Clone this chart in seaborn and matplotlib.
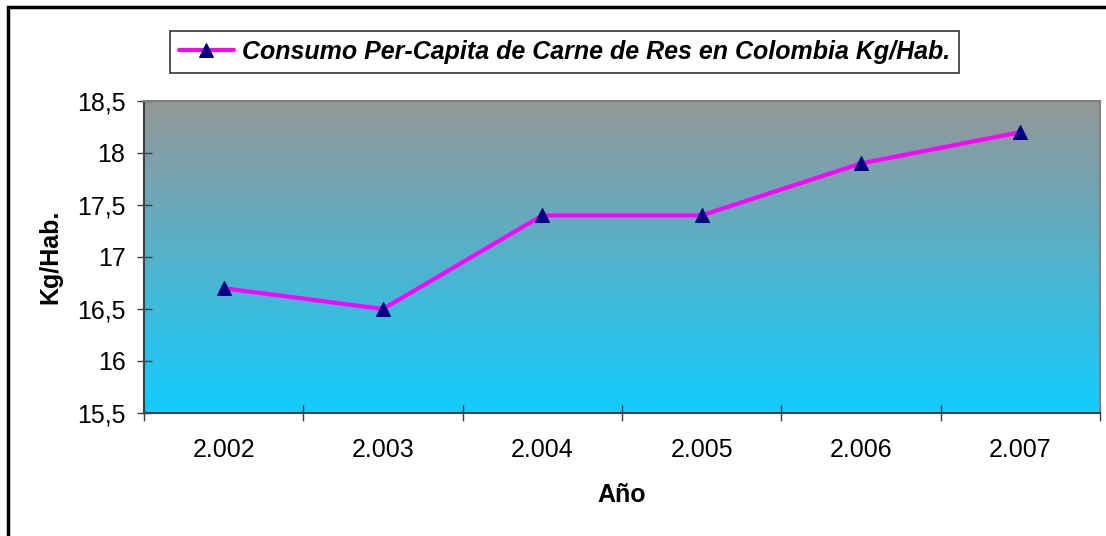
import numpy as np
import matplotlib
matplotlib.use("Agg")
import matplotlib.pyplot as plt
import matplotlib.patches as mpatches
import seaborn as sns

# Data
years = ["2.002", "2.003", "2.004", "2.005", "2.006", "2.007"]
consumo = [16.7, 16.5, 17.4, 17.4, 17.9, 18.2]
y_ticks = [15.5, 16, 16.5, 17, 17.5, 18, 18.5]
y_tick_labels = ["15,5", "16", "16,5", "17", "17,5", "18", "18,5"]
series_label = "Consumo Per-Capita de Carne de Res en Colombia Kg/Hab."

sns.set_style("white")
plt.rcParams["font.family"] = ["Liberation Sans", "DejaVu Sans"]
plt.rcParams["text.color"] = "black"
plt.rcParams["xtick.color"] = "black"
plt.rcParams["ytick.color"] = "black"
plt.rcParams["xtick.labelcolor"] = "black"
plt.rcParams["ytick.labelcolor"] = "black"

FS = 18
W, H = 1106, 536
fig = plt.figure(figsize=(W / 100, H / 100), dpi=100)
fig.patch.set_facecolor("white")

# plot area in pixel coords
px_l, px_r, px_t, px_b = 144, 1100, 101, 413
ax = fig.add_axes([px_l / W, 1 - px_b / H, (px_r - px_l) / W, (px_b - px_t) / H])

# vertical gradient background: grey at top to cyan at bottom
top_c = np.array([150, 150, 150]) / 255
bot_c = np.array([18, 205, 255]) / 255
t = np.linspace(0, 1, 256)[:, None]
grad = (top_c[None, :] * (1 - t) + bot_c[None, :] * t)[:, None, :]
ax.imshow(grad, extent=[0, 1, 0, 1], transform=ax.transAxes, aspect="auto",
          zorder=0, interpolation="bilinear")

x_idx = np.arange(len(years))
sns.lineplot(x=x_idx, y=consumo, ax=ax, color="#FF00FF", linewidth=3,
             marker="^", markersize=10, markerfacecolor="#000080",
             markeredgecolor="#000080", label=series_label, zorder=3)

ax.set_xlim(-0.5, len(years) - 0.5)
ax.set_ylim(15.5, 18.5)

# category boundaries as major ticks, labels at category centres
ax.set_xticks(np.arange(len(years) + 1) - 0.5)
ax.set_xticklabels([""] * (len(years) + 1))
ax.set_xticks(x_idx, minor=True)
ax.set_xticklabels(years, minor=True, fontsize=FS, color="black")
ax.tick_params(axis="x", which="minor", bottom=True, length=0, pad=18)
ax.tick_params(axis="x", which="major", bottom=True, direction="inout",
               length=11.5, width=1, color="#404040")

ax.set_yticks(y_ticks)
ax.set_yticklabels(y_tick_labels, fontsize=FS, color="black")
ax.tick_params(axis="y", left=True, direction="inout", length=10.8, width=1,
               color="#404040", pad=8)

for side in ["left", "bottom"]:
    ax.spines[side].set_color("#404040")
    ax.spines[side].set_linewidth(1.5)
for side in ["top", "right"]:
    ax.spines[side].set_color("#808080")
    ax.spines[side].set_linewidth(1.5)

ax.set_xlabel("")
ax.set_ylabel("")
fig.text(622 / W, 1 - 495 / H, "Año", ha="center", va="center",
         fontsize=FS, fontweight="bold", color="black")
fig.text(50 / W, 1 - 257 / H, "Kg/Hab.", ha="center", va="center",
         rotation=90, fontsize=FS, fontweight="bold", color="black")

# legend above the plot area
handles, labels = ax.get_legend_handles_labels()
ax.legend_.remove()
leg = fig.legend(handles, labels, loc="center",
                 bbox_to_anchor=(564.5 / W, 1 - 52 / H),
                 prop={"size": FS, "weight": "bold", "style": "italic"},
                 frameon=True, fancybox=False, edgecolor="black",
                 handlelength=2.2, handletextpad=0.32, borderpad=0.35,
                 borderaxespad=0, labelcolor="black")
leg.get_frame().set_linewidth(1.2)

# outer chart frame
fig.patches.append(mpatches.Rectangle((7.5 / W, -0.1), 1.2, 1 - 6.5 / H + 0.1,
                                      transform=fig.transFigure, fill=False,
                                      edgecolor="black", linewidth=2.5,
                                      clip_on=False))

fig.savefig("out.png", dpi=100)
